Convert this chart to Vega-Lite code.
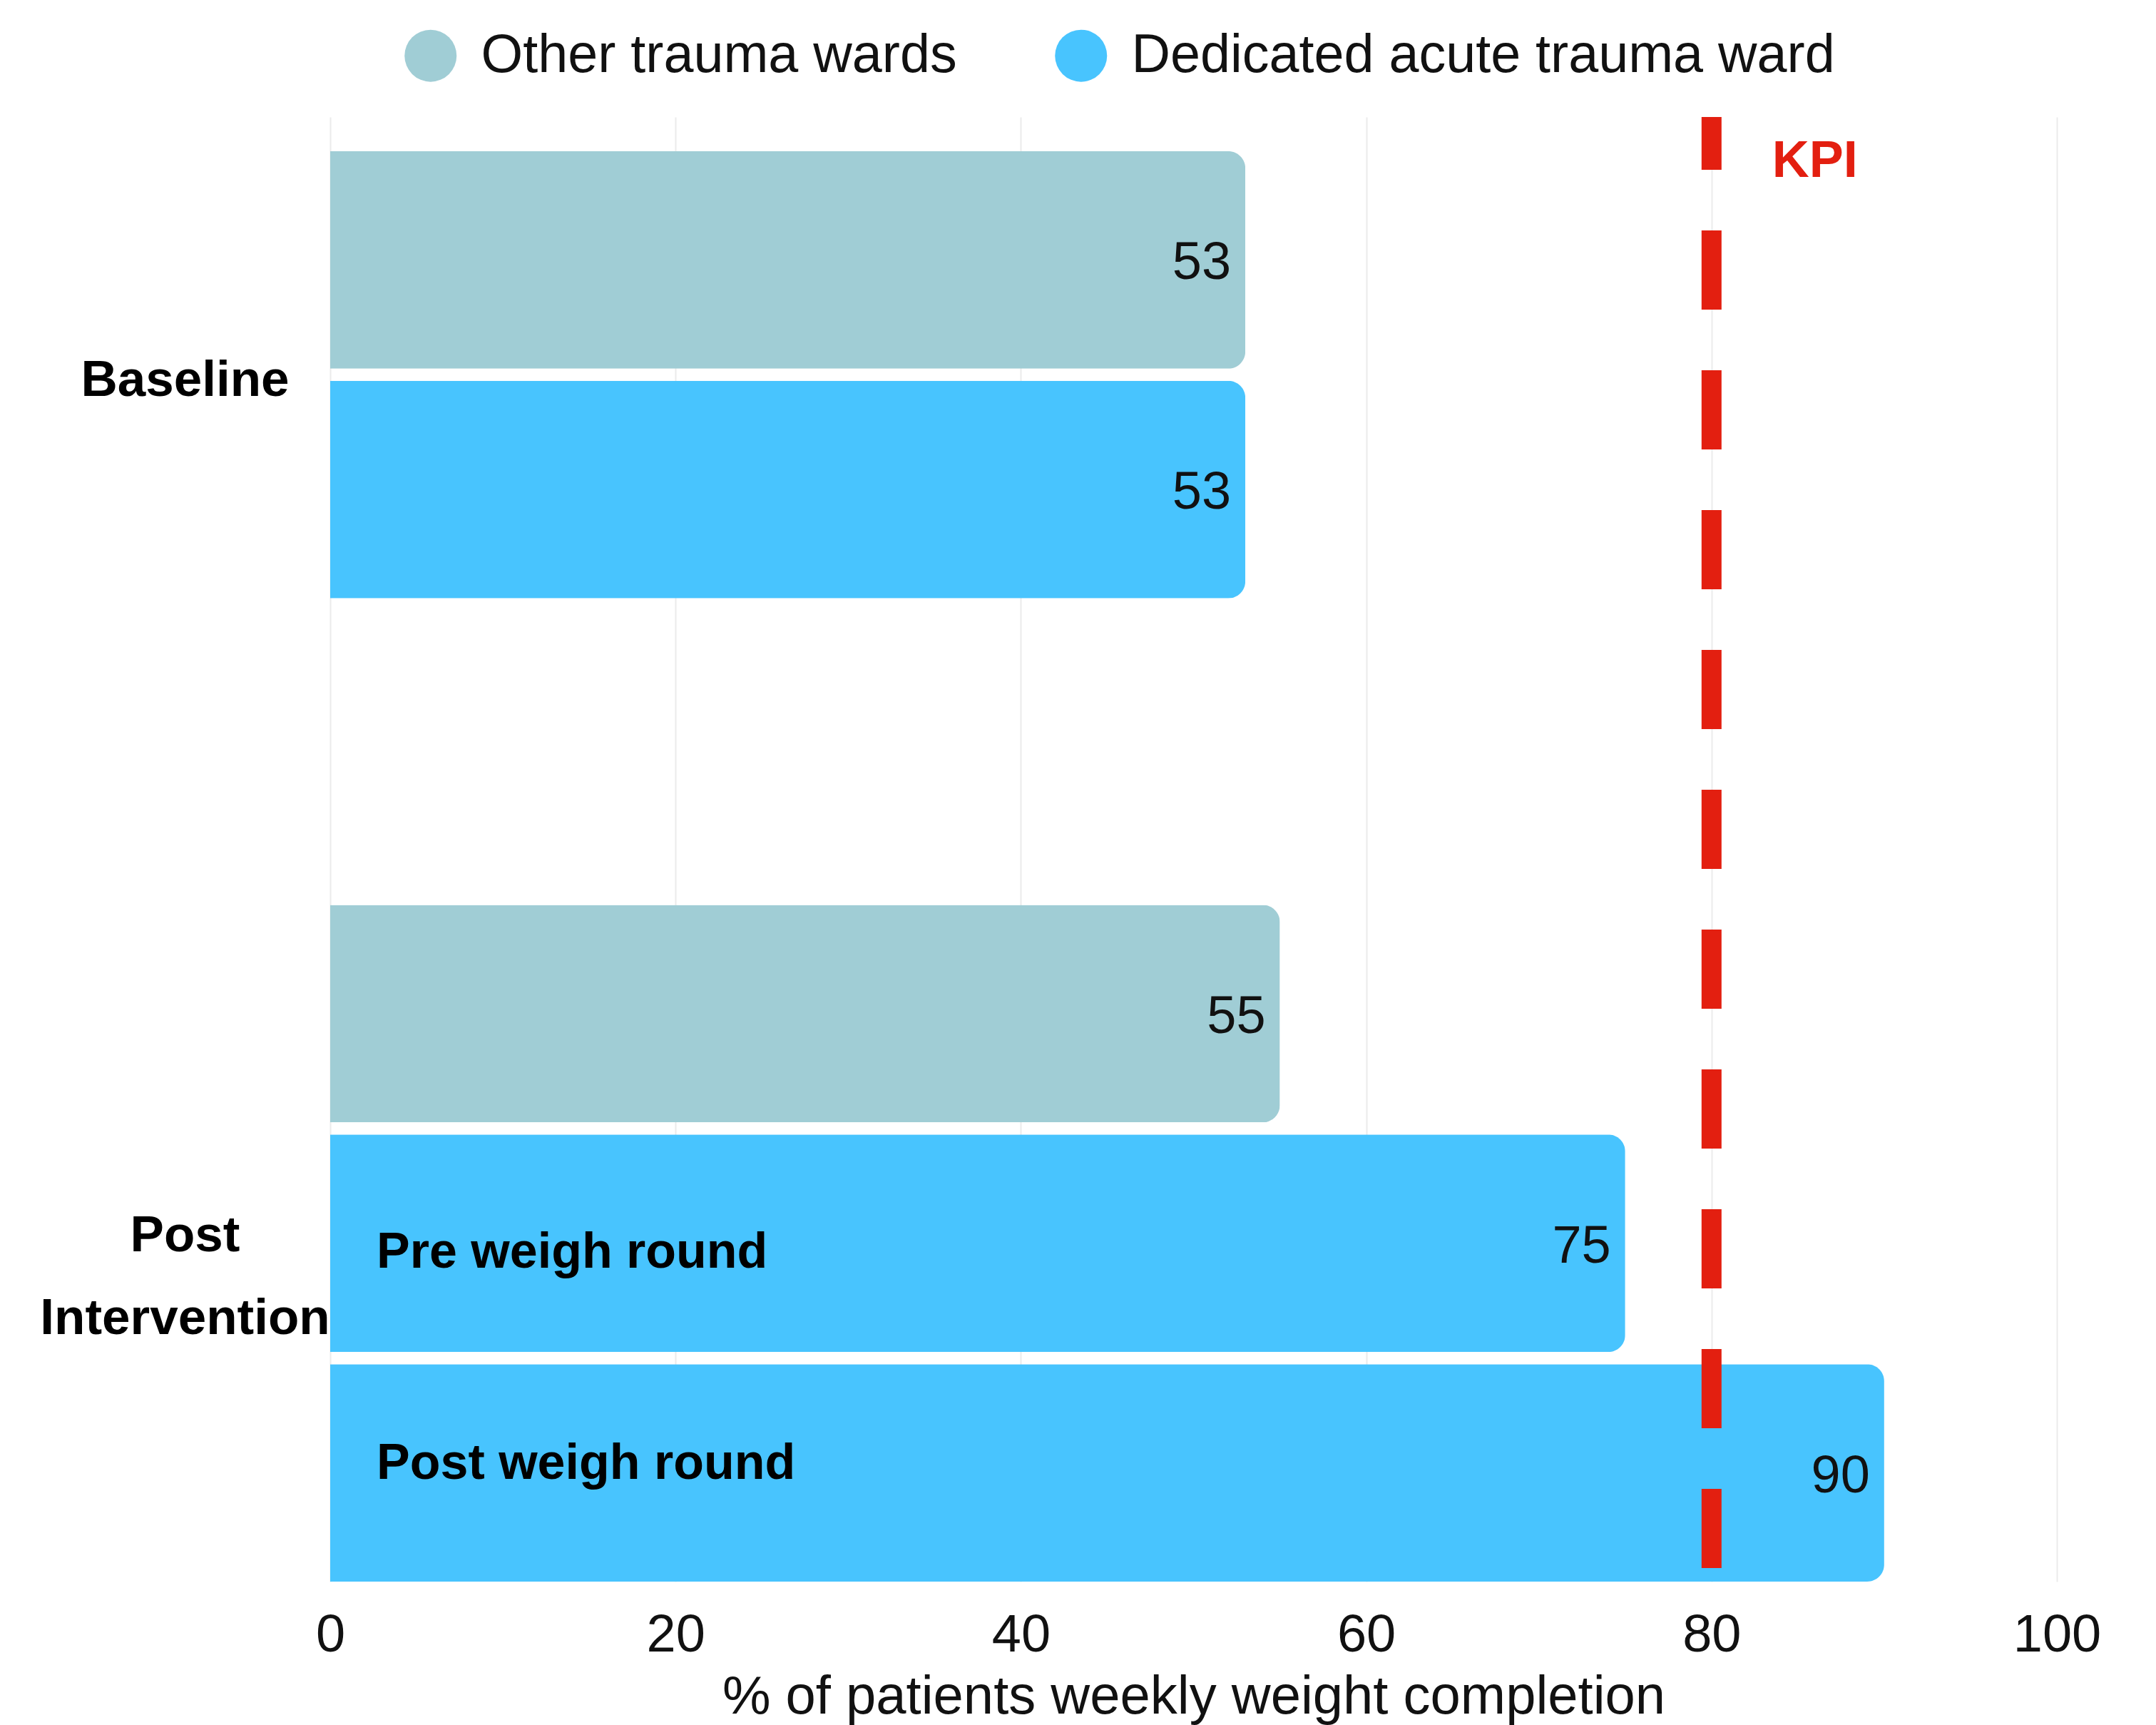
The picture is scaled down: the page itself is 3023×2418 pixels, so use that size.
{
  "$schema": "https://vega.github.io/schema/vega-lite/v6.json",
  "autosize": {"type": "none"},
  "padding": {"left": 463, "top": 164, "right": 139, "bottom": 201},
  "width": 2421,
  "height": 2053,
  "background": "white",
  "config": {
    "font": "Liberation Sans",
    "view": {"stroke": null}
  },
  "datasets": {
    "bars": [
      {"period": "Baseline", "slot": "1", "ward": "Other trauma wards", "value": 53, "sub": ""},
      {"period": "Baseline", "slot": "2", "ward": "Dedicated acute trauma ward", "value": 53, "sub": ""},
      {"period": "Post Intervention", "slot": "1", "ward": "Other trauma wards", "value": 55, "sub": ""},
      {"period": "Post Intervention", "slot": "2", "ward": "Dedicated acute trauma ward", "value": 75, "sub": "Pre weigh round"},
      {"period": "Post Intervention", "slot": "3", "ward": "Dedicated acute trauma ward", "value": 90, "sub": "Post weigh round"}
    ],
    "kpi": [
      {"label": "KPI", "kpi": 80}
    ]
  },
  "layer": [
    {
      "data": {"name": "bars"},
      "mark": {"type": "bar", "cornerRadiusEnd": 24},
      "encoding": {
        "y": {
          "field": "period", "type": "nominal",
          "scale": {"domain": ["Baseline", "Post Intervention"], "paddingInner": 0.1022, "paddingOuter": 0.0227, "align": 1},
          "axis": {
            "title": null, "domain": false, "ticks": false, "tickSize": 0, "grid": false,
            "labelFontSize": 71, "labelFontWeight": "bold", "labelColor": "#000000",
            "labelAlign": "center", "labelBaseline": "middle", "labelPadding": 204,
            "labelLineHeight": 116, "labelLimit": 1000,
            "labelExpr": "datum.value == 'Post Intervention' ? ['Post', 'Intervention'] : datum.value",
            "labelOffset": {"condition": {"test": "datum.value === 'Baseline'", "value": -152}, "value": -10}
          }
        },
        "yOffset": {
          "field": "slot", "type": "nominal",
          "scale": {"domain": ["1", "2", "3"], "paddingInner": 0.0528, "paddingOuter": 0}
        },
        "x": {
          "field": "value", "type": "quantitative",
          "scale": {"domain": [0, 100], "nice": false},
          "axis": {
            "title": "% of patients weekly weight completion",
            "values": [0, 20, 40, 60, 80, 100],
            "domain": false, "ticks": false, "tickSize": 0, "labelFlush": false,
            "grid": true, "gridColor": "#ebebeb", "gridWidth": 2,
            "labelFontSize": 74, "labelColor": "#111111", "labelPadding": 39,
            "titleFontSize": 76, "titleFontWeight": "normal", "titleColor": "#111111", "titlePadding": 12
          }
        },
        "color": {
          "field": "ward", "type": "nominal",
          "scale": {"domain": ["Other trauma wards", "Dedicated acute trauma ward"], "range": ["#a0cdd5", "#48c4fe"]},
          "legend": {
            "title": null, "orient": "none", "direction": "horizontal",
            "legendX": 103, "legendY": -124,
            "symbolType": "circle", "symbolSize": 5329, "symbolStrokeWidth": 0,
            "labelFontSize": 75.5, "labelColor": "#111111", "labelOffset": 33,
            "columnPadding": 136, "labelLimit": 2000
          }
        }
      }
    },
    {
      "data": {"name": "bars"},
      "mark": {"type": "text", "align": "right", "baseline": "middle", "dx": -20, "dy": 5, "fontSize": 74, "color": "#111111"},
      "encoding": {
        "y": {"field": "period", "type": "nominal"},
        "yOffset": {"field": "slot", "type": "nominal"},
        "x": {"field": "value", "type": "quantitative"},
        "text": {"field": "value", "type": "quantitative"}
      }
    },
    {
      "data": {"name": "bars"},
      "transform": [{"filter": "datum.sub === 'Pre weigh round'"}],
      "mark": {"type": "text", "align": "left", "baseline": "middle", "dx": 65, "dy": 13, "fontSize": 70, "fontWeight": "bold", "color": "#000000"},
      "encoding": {
        "y": {"field": "period", "type": "nominal"},
        "yOffset": {"field": "slot", "type": "nominal"},
        "x": {"datum": 0, "type": "quantitative"},
        "text": {"field": "sub", "type": "nominal"}
      }
    },
    {
      "data": {"name": "bars"},
      "transform": [{"filter": "datum.sub === 'Post weigh round'"}],
      "mark": {"type": "text", "align": "left", "baseline": "middle", "dx": 65, "dy": -13, "fontSize": 70, "fontWeight": "bold", "color": "#000000"},
      "encoding": {
        "y": {"field": "period", "type": "nominal"},
        "yOffset": {"field": "slot", "type": "nominal"},
        "x": {"datum": 0, "type": "quantitative"},
        "text": {"field": "sub", "type": "nominal"}
      }
    },
    {
      "data": {"name": "kpi"},
      "mark": {"type": "rule", "color": "#e31f10", "strokeWidth": 28, "strokeDash": [111, 85], "strokeDashOffset": 37, "strokeCap": "butt"},
      "encoding": {
        "x": {"field": "kpi", "type": "quantitative"}
      }
    },
    {
      "data": {"name": "kpi"},
      "mark": {"type": "text", "align": "left", "baseline": "middle", "dx": 85, "dy": 14, "fontSize": 72, "fontWeight": "bold", "color": "#e31f10"},
      "encoding": {
        "x": {"field": "kpi", "type": "quantitative"},
        "y": {"datum": "Baseline", "type": "nominal", "bandPosition": 0},
        "text": {"field": "label", "type": "nominal"}
      }
    }
  ]
}
